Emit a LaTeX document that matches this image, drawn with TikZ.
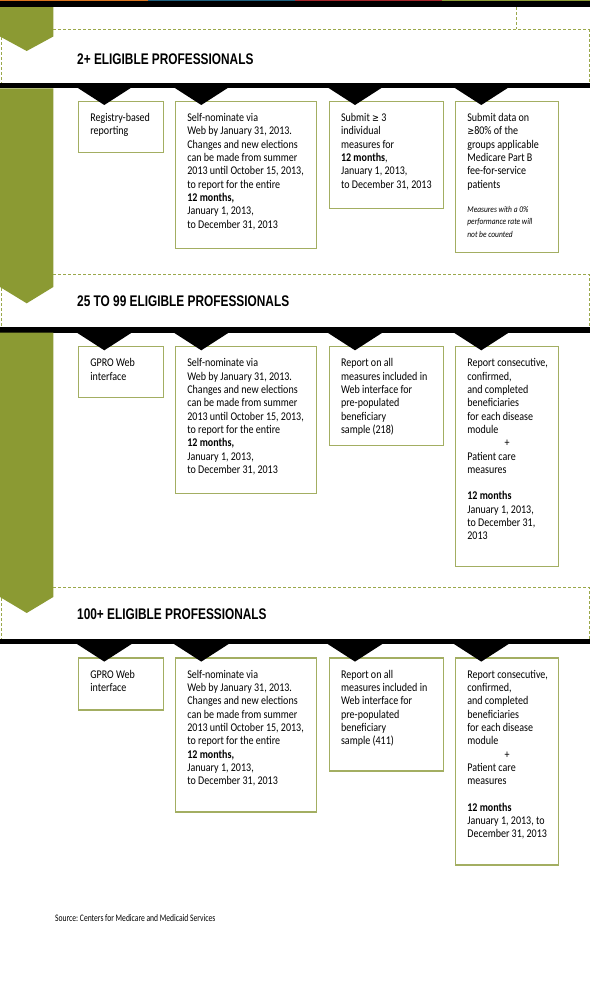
\documentclass[tikz,border=0pt]{standalone}
\usepackage{fontspec}
\setmainfont[FakeStretch=0.85]{Carlito}
\newfontfamily\headfont[FakeStretch=0.77]{Liberation Sans}
\newfontfamily\symfont[FakeStretch=0.83]{DejaVu Sans}
\newfontfamily\srcfont[FakeStretch=0.76]{Carlito}
\definecolor{barolive}{HTML}{8B9A33}
\definecolor{boxolive}{HTML}{A3AE62}
\definecolor{dasholive}{HTML}{9AA84A}
\definecolor{stripeorange}{HTML}{D9741E}
\definecolor{stripeblue}{HTML}{1D5F7D}
\definecolor{stripered}{HTML}{A3252A}
\definecolor{stripegreen}{HTML}{8B9A33}
\newcommand\geqsign{{\symfont\fontsize{10bp}{13.3bp}\selectfont ≥}}
\hyphenpenalty=10000
\frenchspacing

\begin{document}
\begin{tikzpicture}[
        x=1bp, y=-1bp,
        cell/.style={draw=boxolive, line width=1.3bp, anchor=north west, align=flush left, inner xsep=11.7bp, inner ysep=0pt, text height=20.3bp, font=\fontsize{11.8bp}{13.3bp}\selectfont},
        colA/.style={cell, text width=61.6bp},
        colB/.style={cell, text width=117.6bp},
        colC/.style={cell, text width=90.9bp},
        colD/.style={cell, text width=79.6bp},
        headtext/.style={anchor=base west, inner sep=0pt, font=\headfont\bfseries\fontsize{15.4bp}{18bp}\selectfont},
        dashline/.style={draw=dasholive, line width=1bp, dash pattern=on 3bp off 2bp}
    ]
    \fill[white] (0,0) rectangle (590,994);
    \useasboundingbox (0,0) rectangle (590,994);

    % Top stripes and bars
    \fill[stripeorange] (0,0) rectangle (148,1.2);
    \fill[stripeblue] (148,0) rectangle (295,1.2);
    \fill[stripered] (295,0) rectangle (441.7,1.2);
    \fill[stripegreen] (441.7,0) rectangle (590,1.2);
    \fill[black] (0,1.2) rectangle (590,7);
    \fill[black] (0,82.7) rectangle (590,88.3);
    \fill[black] (0,326.7) rectangle (590,332.7);
    \fill[black] (0,639) rectangle (590,644.3);

    % Green side bars
    \fill[barolive] (0,7) -- (53.3,7) -- (53.3,36.5) -- (26.7,51) -- (0,36.5) -- cycle;
    \fill[barolive] (0,88.3) -- (53.3,88.3) -- (53.3,287) -- (26.7,303.3) -- (0,287) -- cycle;
    \fill[barolive] (0,332.7) -- (53.3,332.7) -- (53.3,597) -- (26.7,613) -- (0,597) -- cycle;

    % Header frames
    \draw[dashline] (53.3,29.3) -- (589,29.3) -- (589,82.7);
    \draw[dashline] (1,37) -- (1,82.7);
    \draw[dashline] (516,7) -- (516,29.3);
    \draw[dashline] (53.3,274) -- (589,274) -- (589,326.7);
    \draw[dashline] (1,288) -- (1,326.7);
    \draw[dashline] (53.3,587) -- (589,587) -- (589,639);
    \draw[dashline] (1,598) -- (1,639);

    % Row 1: 2+
    \node (title1) [headtext] at (77,64.3) {2+ ELIGIBLE PROFESSIONALS};
    \node (registry1) [colA, text depth=30.7bp] at (78,100.7) {Registry-based\\ reporting};
    \node (nominate1) [colB, text depth=126.7bp] at (175,100.7) {Self-nominate via\\ Web by January 31, 2013.\\ Changes and new elections\\ can be made from summer\\ 2013 until October 15, 2013,\\ to report for the entire\\ \textbf{12 months,}\\ January 1, 2013,\\ to December 31, 2013};
    \node (measures1) [colC, text depth=86.7bp] at (328.7,100.7) {Submit \geqsign{} 3\\ individual\\ measures for\\ \textbf{12 months},\\ January 1, 2013,\\ to December 31, 2013};
    \node (patients1) [colD, text depth=130.7bp] at (455,100.7) {Submit data on\\ \geqsign80\% of the\\ groups applicable\\ Medicare Part B\\ fee-for-service\\ patients\par\vspace{12.9bp}\fontsize{8.8bp}{11.6bp}\selectfont\itshape Measures with a 0\%\\ performance rate will\\ not be counted};

    % Row 2: 25 to 99
    \node (title2) [headtext] at (77,306.7) {25 TO 99 ELIGIBLE PROFESSIONALS};
    \node (gpro2) [colA, text depth=30.7bp] at (78,346) {GPRO Web\\ interface};
    \node (nominate2) [colB, text depth=126.7bp] at (175,346) {Self-nominate via\\ Web by January 31, 2013.\\ Changes and new elections\\ can be made from summer\\ 2013 until October 15, 2013,\\ to report for the entire\\ \textbf{12 months,}\\ January 1, 2013,\\ to December 31, 2013};
    \node (sample2) [colC, text depth=78.7bp] at (328.7,346) {Report on all\\ measures included in\\ Web interface for\\ pre-populated\\ beneficiary\\ sample (218)};
    \node (module2) [colD, text depth=199.7bp] at (455,346) {\mbox{Report consecutive,}\\ confirmed,\\ and completed\\ beneficiaries\\ for each disease\\ module\\ \makebox[\linewidth]{+}\\ Patient care\\ measures\\[13.3bp] \textbf{12 months}\\ January 1, 2013,\\ to December 31,\\ 2013};

    % Row 3: 100+
    \node (title3) [headtext] at (77,619) {100+ ELIGIBLE PROFESSIONALS};
    \node (gpro3) [colA, text depth=31.7bp] at (78,657.3) {GPRO Web\\ interface};
    \node (nominate3) [colB, text depth=133.7bp] at (175,657.3) {Self-nominate via\\ Web by January 31, 2013.\\ Changes and new elections\\ can be made from summer\\ 2013 until October 15, 2013,\\ to report for the entire\\ \textbf{12 months,}\\ January 1, 2013,\\ to December 31, 2013};
    \node (sample3) [colC, text depth=92.7bp] at (328.7,657.3) {Report on all\\ measures included in\\ Web interface for\\ pre-populated\\ beneficiary\\ sample (411)};
    \node (module3) [colD, text depth=186.7bp] at (455,657.3) {\mbox{Report consecutive,}\\ confirmed,\\ and completed\\ beneficiaries\\ for each disease\\ module\\ \makebox[\linewidth]{+}\\ Patient care\\ measures\\[13.3bp] \textbf{12 months}\\ January 1, 2013, to\\ December 31, 2013};

    % Pointers from the bars into the boxes
    \foreach \n in {registry1, nominate1, measures1, patients1, gpro2, nominate2, sample2, module2, gpro3, nominate3, sample3, module3}
        \fill[black] (\n.north west) ++(-1.2,-13.4) -- ++(55,0) -- ++(-27.5,17.7) -- cycle;

    \node (source) [anchor=base west, inner sep=0pt, font=\srcfont\fontsize{10bp}{12bp}\selectfont] at (55,921) {Source: Centers for Medicare and Medicaid Services};
\end{tikzpicture}
\end{document}
